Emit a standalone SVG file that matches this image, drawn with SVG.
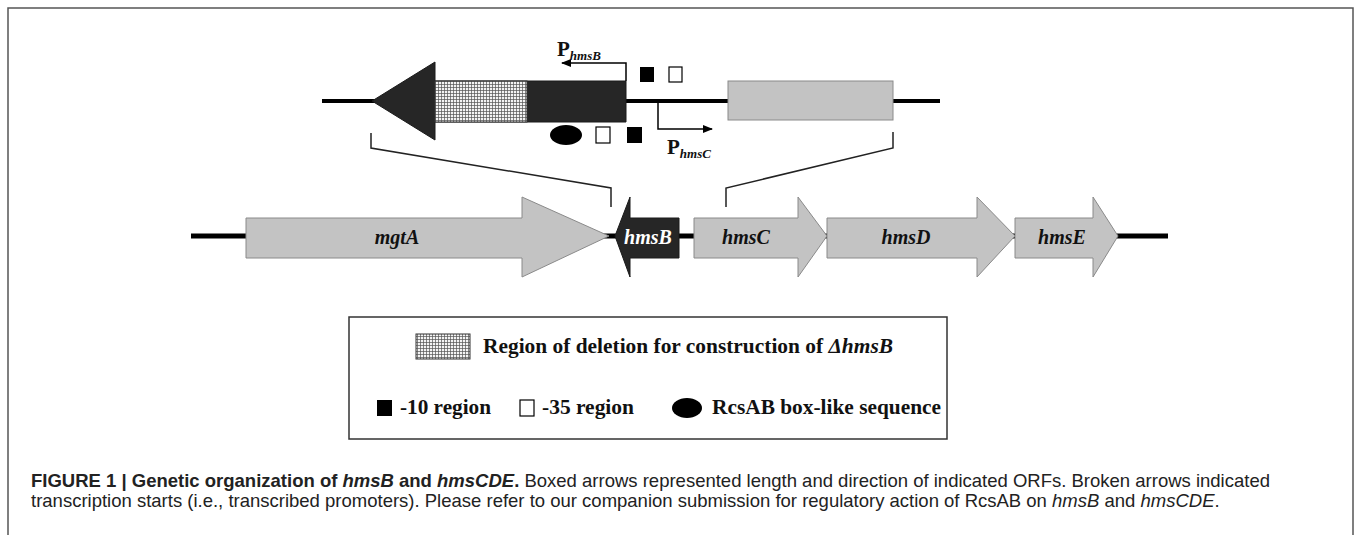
<svg xmlns="http://www.w3.org/2000/svg" width="1355" height="535" viewBox="0 0 1355 535">
<style>
.gene{fill:#c3c3c3;stroke:#8a8a8a;stroke-width:1}
.dark{fill:#262626;stroke:#1a1a1a;stroke-width:1}
.glab{font-family:"Liberation Serif",serif;font-weight:bold;font-style:italic;font-size:20px;text-anchor:middle;fill:#111}
.leg{font-family:"Liberation Serif",serif;font-weight:bold;font-size:20px;fill:#111}
.brk{fill:none;stroke:#222;stroke-width:1.5}
.dna{stroke:#000;fill:none}
.cap{font-family:"Liberation Sans",Arial,sans-serif;font-size:18.5px;fill:#222}
.plab{font-family:"Liberation Serif",serif;font-weight:bold;font-size:21px;fill:#111}
</style>
<defs>
<pattern id="hatch" width="3" height="3" patternUnits="userSpaceOnUse">
<rect width="3" height="3" fill="#f4f4f4"/>
<path d="M0 0.5H3M0.5 0V3" stroke="#555" stroke-width="0.7"/>
</pattern>
<marker id="ah" markerWidth="10" markerHeight="8" refX="9" refY="4" orient="auto" markerUnits="userSpaceOnUse">
<path d="M0 0L10 4L0 8Z" fill="#000"/>
</marker>
</defs>
<rect x="0" y="0" width="1355" height="535" fill="#fff"/>
<path d="M8 545V8H1353V545" fill="none" stroke="#555" stroke-width="1.5"/>

<g id="top-region">
<line class="dna" x1="322" y1="101" x2="940" y2="101" stroke-width="4"/>
<path class="dark" d="M372 101L435 62V81H626V122H435V140Z"/>
<rect x="435" y="81" width="92" height="41" fill="url(#hatch)" stroke="#333" stroke-width="1"/>
<rect class="gene" x="728" y="81" width="165" height="39"/>
</g>

<g id="promoters">
<path d="M626 81V63H562" fill="none" stroke="#000" stroke-width="1.5" marker-end="url(#ah)"/>
<text class="plab" x="557" y="56">P<tspan font-size="13" font-style="italic" dy="4">hmsB</tspan></text>
<path d="M658 101V129H712" fill="none" stroke="#000" stroke-width="1.5" marker-end="url(#ah)"/>
<text class="plab" x="667" y="154">P<tspan font-size="13" font-style="italic" dy="4">hmsC</tspan></text>
</g>

<g id="boxes">
<rect x="640" y="67" width="14" height="15" fill="#000"/>
<rect x="669" y="67" width="13" height="15" fill="#fff" stroke="#000" stroke-width="1.2"/>
<ellipse cx="566" cy="135" rx="16" ry="10" fill="#000"/>
<rect x="596" y="127" width="14" height="16" fill="#fff" stroke="#000" stroke-width="1.2"/>
<rect x="627" y="127" width="15" height="16" fill="#000"/>
</g>

<g id="connectors">
<path class="brk" d="M371 133V148L611 188V207"/>
<path class="brk" d="M893 132V148L726 188V207"/>
</g>

<g id="bottom-row">
<line class="dna" x1="191" y1="236" x2="1168" y2="236" stroke-width="5"/>
<g id="mgtA"><path class="gene" d="M246 218H522V197L609 236L522 277V258H246Z"/><text class="glab" x="397" y="244">mgtA</text></g>
<g id="hmsB"><path class="dark" d="M615 236L630 197V218H679V258H630V277Z"/><text class="glab" x="648" y="244" style="fill:#fff">hmsB</text></g>
<g id="hmsC"><path class="gene" d="M694 218H798V197L827 236L798 277V258H694Z"/><text class="glab" x="746" y="244">hmsC</text></g>
<g id="hmsD"><path class="gene" d="M827 218H977V197L1015 236L977 277V258H827Z"/><text class="glab" x="906" y="244">hmsD</text></g>
<g id="hmsE"><path class="gene" d="M1015 218H1093V197L1118 236L1093 277V258H1015Z"/><text class="glab" x="1062" y="244">hmsE</text></g>
</g>

<g id="legend">
<rect x="349" y="317" width="598" height="122" fill="#fff" stroke="#333" stroke-width="1.5"/>
<rect x="416" y="334" width="54" height="25" fill="url(#hatch)" stroke="#333" stroke-width="1"/>
<text class="leg" x="483" y="353" textLength="410" lengthAdjust="spacingAndGlyphs">Region of deletion for construction of <tspan font-style="italic">ΔhmsB</tspan></text>
<rect x="377" y="400" width="15" height="16" fill="#000"/>
<text class="leg" x="400" y="414" textLength="91" lengthAdjust="spacingAndGlyphs">-10 region</text>
<rect x="520" y="400" width="14" height="16" fill="#fff" stroke="#000" stroke-width="1.2"/>
<text class="leg" x="542" y="414" textLength="92" lengthAdjust="spacingAndGlyphs">-35 region</text>
<ellipse cx="687" cy="408" rx="15" ry="10" fill="#000"/>
<text class="leg" x="712" y="414" textLength="229" lengthAdjust="spacingAndGlyphs">RcsAB box-like sequence</text>
</g>

<g id="caption">
<text class="cap" x="31" y="487"><tspan font-weight="bold">FIGURE 1 | Genetic organization of <tspan font-style="italic">hmsB</tspan> and <tspan font-style="italic">hmsCDE</tspan>.</tspan> Boxed arrows represented length and direction of indicated ORFs. Broken arrows indicated</text>
<text class="cap" x="31" y="507">transcription starts (i.e., transcribed promoters). Please refer to our companion submission for regulatory action of RcsAB on <tspan font-style="italic">hmsB</tspan> and <tspan font-style="italic">hmsCDE</tspan>.</text>
</g>
</svg>
